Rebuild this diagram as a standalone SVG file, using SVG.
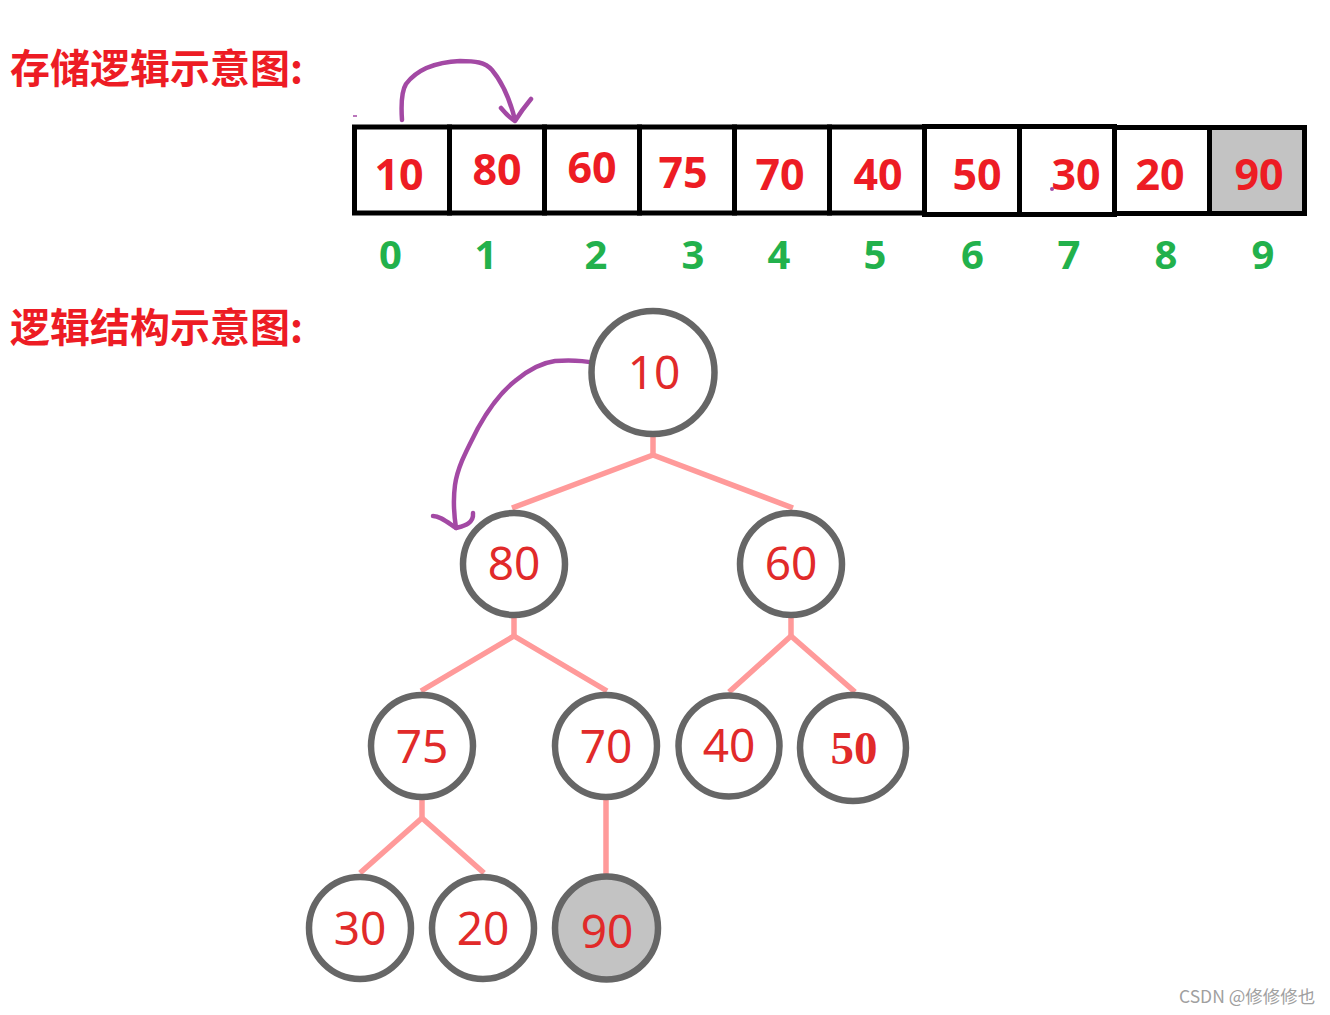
<svg xmlns="http://www.w3.org/2000/svg" width="1330" height="1015" viewBox="0 0 1330 1015">
<style>
.title{font-family:"Noto Sans CJK SC","Noto Sans",sans-serif;font-weight:bold;font-size:40px;fill:#ed1c24}
.cell{fill:#fff;stroke:#000;stroke-width:5}
.cv{font-family:"Noto Sans","DejaVu Sans",sans-serif;font-weight:bold;font-size:43px;fill:#ed1c24;text-anchor:middle}
.idx{font-family:"Noto Sans","DejaVu Sans",sans-serif;font-weight:bold;font-size:40px;fill:#22b14c;text-anchor:middle}
.node circle{fill:#fff;stroke:#666;stroke-width:6.5}
.node text{font-family:"Noto Sans","DejaVu Sans",sans-serif;font-size:46px;fill:#e12a2a;text-anchor:middle}
.edge{stroke:#ff9a9a;stroke-width:5.5;fill:none;stroke-linecap:butt;stroke-linejoin:round}
.pen{stroke:#a349a4;stroke-width:4.5;fill:none;stroke-linecap:round;stroke-linejoin:round}
.wm{font-family:"Noto Sans CJK SC","Noto Sans",sans-serif;font-size:17.5px;fill:#a0a0a0}
</style>

<text class="title" x="10" y="83">存储逻辑示意图:</text>
<text class="title" x="10" y="342">逻辑结构示意图:</text>

<g id="array">
  <rect class="cell" x="354.5" y="127" width="95" height="86"/>
  <rect class="cell" x="449.5" y="127" width="95" height="86"/>
  <rect class="cell" x="544.5" y="127" width="95" height="86"/>
  <rect class="cell" x="639.5" y="127" width="95" height="86"/>
  <rect class="cell" x="734.5" y="127" width="95" height="86"/>
  <rect class="cell" x="829.5" y="127" width="95" height="86"/>
  <rect class="cell" x="924.5" y="126.5" width="95" height="88"/>
  <rect class="cell" x="1019.5" y="126.5" width="95" height="88"/>
  <rect class="cell" x="1114.5" y="127.5" width="95" height="86"/>
  <rect class="cell" x="1209.5" y="127.5" width="95" height="86" style="fill:#c3c3c3"/>
  <text class="cv" x="399" y="190">10</text>
  <text class="cv" x="497" y="185">80</text>
  <text class="cv" x="592" y="183">60</text>
  <text class="cv" x="683" y="188">75</text>
  <text class="cv" x="780" y="190">70</text>
  <text class="cv" x="878" y="190">40</text>
  <text class="cv" x="977" y="190">50</text>
  <text class="cv" x="1076" y="190">30</text>
  <text class="cv" x="1160" y="190">20</text>
  <text class="cv" x="1259" y="190">90</text>
  <text class="idx" x="390.5" y="269">0</text>
  <text class="idx" x="486" y="269">1</text>
  <text class="idx" x="596" y="269">2</text>
  <text class="idx" x="693" y="269">3</text>
  <text class="idx" x="779" y="269">4</text>
  <text class="idx" x="875" y="269">5</text>
  <text class="idx" x="972.5" y="269">6</text>
  <text class="idx" x="1069" y="269">7</text>
  <text class="idx" x="1166" y="269">8</text>
  <text class="idx" x="1263" y="269">9</text>
</g>

<g id="connectors">
  <polyline class="edge" points="653,437 653,455"/>
  <polyline class="edge" points="512,508 653,455 793,508"/>
  <polyline class="edge" points="514,617 514,636"/>
  <polyline class="edge" points="421,691 514,636 607,691"/>
  <polyline class="edge" points="791,617 791,636"/>
  <polyline class="edge" points="729,692 791,636 855,692"/>
  <polyline class="edge" points="422,799 422,818"/>
  <polyline class="edge" points="360,873 422,818 484,873"/>
  <polyline class="edge" points="606,799 606,875"/>
  <path class="pen" d="M402,120 C401,105 401,92 406,84 C418,68 438,62 460,61 C475,61 485,62 492,70 C502,82 510,100 515,120"/>
  <path class="pen" d="M501,108 C506,114 510,118 515,121 C520,113 526,105 531,99"/>
  <path class="pen" d="M594,363 C585,361 570,360 555,361 C540,363 528,370 515,381 C500,393 488,410 478,428 C468,448 458,465 455,485 C453,500 454,515 456,528"/>
  <path class="pen" d="M433,516 C440,516 447,522 456,528 C463,526 474,524 473,513"/>
  <path d="M353,116 L357,116" stroke="#a349a4" stroke-width="1.5"/>
  <circle cx="1052" cy="189" r="2" fill="#a349a4"/>
</g>

<g id="n10" class="node"><circle cx="653" cy="372.5" r="61.5"/><text x="654" y="389">10</text></g>
<g id="n80" class="node"><circle cx="514" cy="564" r="51"/><text x="514" y="580">80</text></g>
<g id="n60" class="node"><circle cx="791" cy="564" r="51"/><text x="791" y="580">60</text></g>
<g id="n75" class="node"><circle cx="422" cy="746" r="51"/><text x="422" y="763">75</text></g>
<g id="n70" class="node"><circle cx="606" cy="746" r="51"/><text x="606" y="763">70</text></g>
<g id="n40" class="node"><circle cx="729" cy="746" r="50.5"/><text x="729" y="762">40</text></g>
<g id="n50" class="node"><circle cx="853" cy="748" r="53"/><text x="854" y="764" style="font-family:'Liberation Serif',serif;font-weight:bold;font-size:47px">50</text></g>
<g id="n30" class="node"><circle cx="360" cy="928" r="51"/><text x="360" y="945">30</text></g>
<g id="n20" class="node"><circle cx="483" cy="928" r="51"/><text x="483" y="945">20</text></g>
<g id="n90" class="node"><circle cx="606.5" cy="928" r="51.5" style="fill:#c3c3c3"/><text x="607" y="948">90</text></g>

<text class="wm" x="1179" y="1003">CSDN @修修修也</text>
</svg>
